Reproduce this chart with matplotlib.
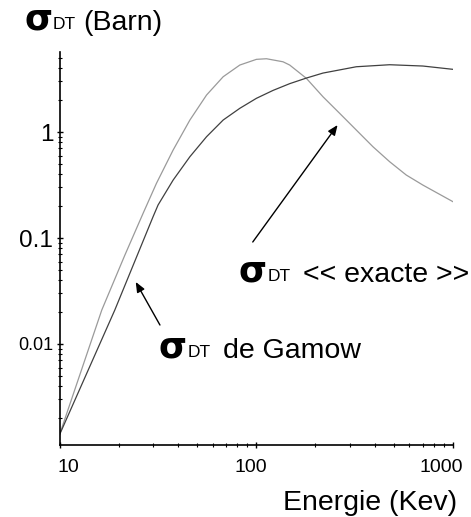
import matplotlib
matplotlib.use("Agg")
import matplotlib.pyplot as plt
from matplotlib.ticker import LogLocator, NullFormatter, FixedLocator
from matplotlib.transforms import ScaledTranslation

# ---- data ----
energy_exacte = [10, 16.4, 21.5, 26.6, 31.1, 37.8, 46.0, 55.9, 67.9, 82.5, 100.2, 112.7,
                 136.8, 147.9, 179.8, 218.3, 265.4, 322.5, 391.7, 476.2, 578.6, 702.6, 1000]
sigma_exacte = [0.00139, 0.0209, 0.0691, 0.171, 0.328, 0.676, 1.298, 2.234, 3.324, 4.286,
                4.85, 4.915, 4.60, 4.286, 3.21, 2.153, 1.501, 1.044, 0.727, 0.525, 0.393,
                0.316, 0.220]

energy_gamow = [10, 19.1, 29.9, 31.7, 37.8, 46.0, 55.9, 67.9, 82.5, 100.2, 121.7, 147.9,
                179.8, 218.3, 322.5, 476.2, 702.6, 1000]
sigma_gamow = [0.00139, 0.0209, 0.159, 0.205, 0.352, 0.585, 0.903, 1.298, 1.674, 2.08,
               2.47, 2.86, 3.23, 3.60, 4.13, 4.315, 4.195, 3.904]

x_ticks = [10, 100, 1000]
x_tick_labels = ["10", "100", "1000"]
y_ticks = [0.01, 0.1, 1]
y_tick_labels = ["0.01", "0.1", "1"]

# annotation arrows (tail -> head) in data coordinates
arrow_exacte = ((96, 0.0917), (259, 1.164))
arrow_gamow = ((32.4, 0.0151), (24.4, 0.0385))

W, H = 471, 517
fig = plt.figure(figsize=(W / 100, H / 100), dpi=100)
plt.rcParams['font.family'] = ['Liberation Sans', 'DejaVu Sans']

ax = fig.add_axes([59.5 / W, 72 / H, (453 - 59.5) / W, (445 - 52) / H])
ax.set_xscale('log')
ax.set_yscale('log')
ax.set_xlim(10, 1000)
ax.set_ylim(0.001114, 5.69)

ax.plot(energy_exacte, sigma_exacte, color='#9a9a9a', lw=0.9)
ax.plot(energy_gamow, sigma_gamow, color='#404040', lw=0.9)

for s in ['top', 'right']:
    ax.spines[s].set_visible(False)
for s in ['left', 'bottom']:
    ax.spines[s].set_linewidth(1.2)

ax.xaxis.set_major_locator(FixedLocator(x_ticks))
ax.set_xticklabels(x_tick_labels)
ax.yaxis.set_major_locator(FixedLocator(y_ticks))
ax.set_yticklabels(y_tick_labels)
ax.xaxis.set_minor_locator(LogLocator(base=10, subs=range(2, 10)))
ax.yaxis.set_minor_locator(LogLocator(base=10, subs=range(2, 10)))
ax.xaxis.set_minor_formatter(NullFormatter())
ax.yaxis.set_minor_formatter(NullFormatter())

ax.tick_params(which='major', direction='inout', length=5, width=1)
ax.tick_params(which='minor', direction='inout', length=3, width=0.8)
ax.tick_params(axis='x', which='major', pad=7.5, labelsize=14)
ax.tick_params(axis='y', which='major', pad=2)

ylabels = ax.get_yticklabels()
for lab, t in zip(ylabels, y_tick_labels):
    lab.set_fontsize(13 if t == "0.01" else 17.5)

xl = ax.get_xticklabels()
xl[0].set_ha('left')
xl[0].set_transform(xl[0].get_transform() + ScaledTranslation(-2 / 100, 0, fig.dpi_scale_trans))
xl[1].set_transform(xl[1].get_transform() + ScaledTranslation(-5 / 100, 0, fig.dpi_scale_trans))
xl[2].set_ha('right')
xl[2].set_transform(xl[2].get_transform() + ScaledTranslation(10 / 100, 0, fig.dpi_scale_trans))

arrowprops = dict(arrowstyle='-|>,head_length=0.6,head_width=0.25', color='black', lw=1.0,
                  shrinkA=0, shrinkB=0)
ax.annotate('', xy=arrow_exacte[1], xytext=arrow_exacte[0], arrowprops=arrowprops)
ax.annotate('', xy=arrow_gamow[1], xytext=arrow_gamow[0], arrowprops=arrowprops)


def px(x, y):
    return x / W, 1 - y / H


def sigma_label(x_sig, x_dt, x_rest, base, rest):
    fig.text(*px(x_sig, base), 'σ', family='DejaVu Sans', weight='bold', fontsize=26,
             ha='left', va='baseline')
    fig.text(*px(x_dt, base - 1), 'DT', fontsize=12.5, ha='left', va='baseline')
    fig.text(*px(x_rest, base), rest, fontsize=20.5, ha='left', va='baseline')


sigma_label(24, 53, 83, 30, '(Barn)')
sigma_label(239, 268, 303, 282, '<< exacte >>')
sigma_label(159, 188, 223, 358, 'de Gamow')

fig.text(*px(283, 510), 'Energie (Kev)', fontsize=20.5, ha='left', va='baseline')

fig.savefig('out.png', dpi=100)
